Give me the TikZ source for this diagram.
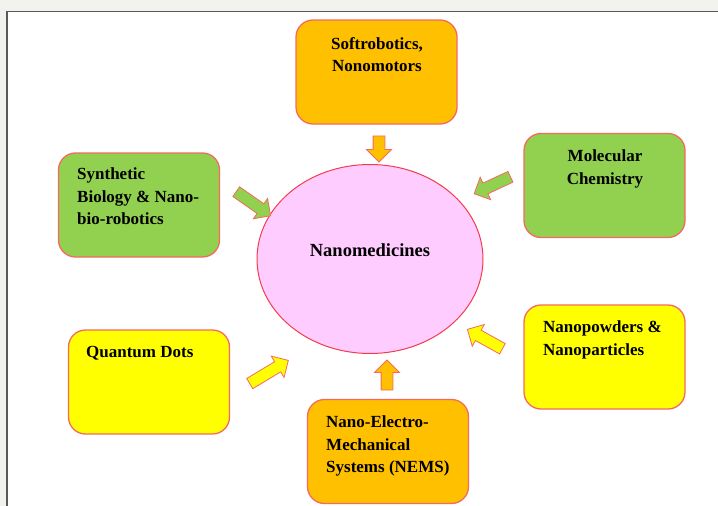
\documentclass[tikz,border=0pt]{standalone}
\usepackage{fontspec}
\setmainfont{Liberation Serif}
\usetikzlibrary{shapes.geometric,shapes.arrows}
\definecolor{bgray}{HTML}{F2F2EE}
\definecolor{frameg}{HTML}{5A5A5A}
\definecolor{bordr}{HTML}{F46A5E}
\definecolor{ellbord}{HTML}{F23C4C}
\definecolor{orng}{HTML}{FFC000}
\definecolor{grn}{HTML}{92D050}
\definecolor{ylw}{HTML}{FFFF00}
\definecolor{pnk}{HTML}{FFCCFF}
\begin{document}
\begin{tikzpicture}[x=1pt,y=-1pt,
  box/.style={draw=bordr,line width=1.3pt,rounded corners=17pt,minimum width=161pt,minimum height=104pt,inner sep=0pt},
  lbl/.style={font=\fontsize{17}{22.5}\selectfont\bfseries,inner sep=0pt,anchor=north west,align=left},
  clbl/.style={font=\fontsize{17}{22.5}\selectfont\bfseries,inner sep=0pt,anchor=north,align=center},
  barrow/.style={shape=single arrow,draw=bordr,line width=0.8pt,single arrow head extend=6.5pt,single arrow head indent=0pt,inner xsep=0pt,inner ysep=5.5pt,text height=0pt,text depth=0pt}
]
\useasboundingbox (0,0) rectangle (718,506);
\fill[bgray] (0,0) rectangle (718,506);
\fill[white] (7,11.5) rectangle (718,506);
\draw[frameg,line width=1.5pt] (7,506) -- (7,11.5) -- (718,11.5);

% boxes
\node[box,fill=orng] (soft) at (376.5,72) {};
\node[box,fill=grn] (synth) at (139,205) {};
\node[box,fill=grn] (molec) at (604.5,185.5) {};
\node[box,fill=ylw] (quant) at (149,382) {};
\node[box,fill=ylw] (npow) at (604.5,357) {};
\node[box,fill=orng] (nems) at (388,451.5) {};

% centre ellipse
\node[ellipse,draw=ellbord,line width=1pt,fill=pnk,minimum width=226pt,minimum height=189pt,inner sep=0pt] (nano) at (370,259) {};
\node[font=\fontsize{18.5}{22}\selectfont\bfseries,inner sep=0pt,anchor=base] (nanot) at (370,256) {Nanomedicines};

% labels
\node[clbl] (softt) at (377,37) {Softrobotics,\\Nonomotors};
\node[lbl] (syntht) at (77,168) {Synthetic\\Biology \& Nano-\\bio-robotics};
\node[clbl] (molect) at (605,150) {Molecular\\Chemistry};
\node[lbl] (quantt) at (86,346) {Quantum Dots};
\node[lbl] (npowt) at (543,321) {Nanopowders \&\\Nanoparticles};
\node[lbl] (nemst) at (326,416) {Nano-Electro-\\Mechanical\\Systems (NEMS)};

% block arrows
\node[barrow,fill=orng,minimum height=26pt,rotate=-90] (a1) at (379,146) {};
\node[barrow,fill=grn,minimum height=42pt,rotate=-35] (a2) at (251,202) {};
\node[barrow,fill=grn,minimum height=40pt,rotate=-155] (a3) at (495,184) {};
\node[barrow,fill=ylw,minimum height=45pt,rotate=31] (a4) at (266.5,373.5) {};
\node[barrow,fill=ylw,minimum height=40pt,rotate=151] (a5) at (487.5,340.5) {};
\node[barrow,fill=orng,minimum height=30pt,rotate=90] (a6) at (387,378) {};
\end{tikzpicture}
\end{document}
